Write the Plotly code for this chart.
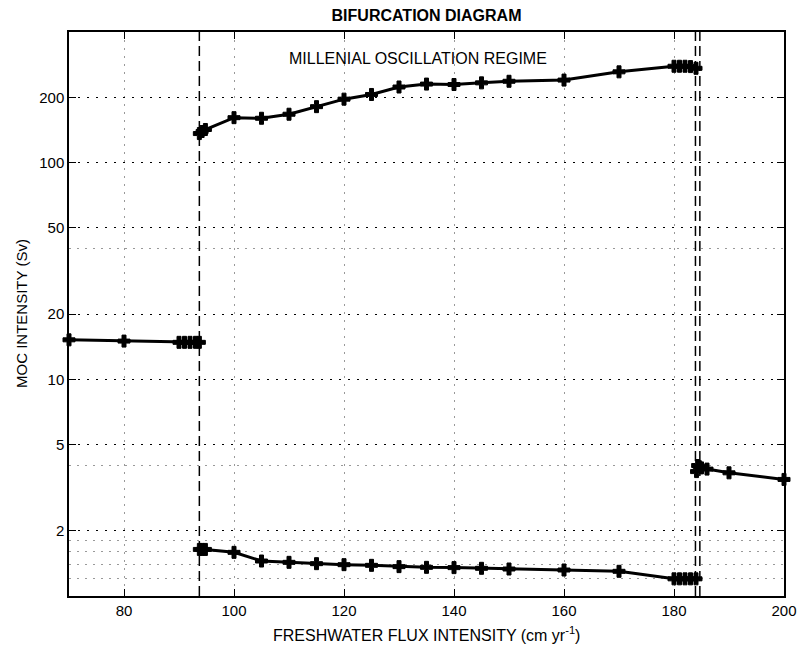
import math
import plotly.graph_objects as go

# ---- data ----
on_x = [70, 80, 90, 91, 92, 93, 93.7]
on_y = [15.2, 15.0, 14.8, 14.8, 14.8, 14.8, 14.8]

osc_x = [93.7, 94.2, 94.8, 100, 105, 110, 115, 120, 125, 130, 135, 140, 145, 150, 160, 170,
         180, 181, 182, 183, 184]
osc_max = [136, 139, 142, 161, 160, 167, 181, 196, 206, 223, 230, 229, 233, 237, 240, 262,
           278, 278, 278, 277, 272]
osc_min = [1.64, 1.64, 1.64, 1.59, 1.45, 1.43, 1.41, 1.395, 1.385, 1.366, 1.356, 1.352, 1.342,
           1.332, 1.318, 1.30, 1.2, 1.2, 1.2, 1.2, 1.2]

off_x = [184.1, 184.3, 184.6, 185, 186, 190, 200]
off_y = [3.75, 4.0, 3.95, 3.9, 3.85, 3.7, 3.45]

bif_x = [93.7, 183.9, 184.7]

x_ticks = [80, 100, 120, 140, 160, 180, 200]
y_ticks = [2, 5, 10, 20, 50, 100, 200]
y_minor = [1.2, 1.4, 1.6, 1.8, 4, 40]
y_range = [1, 400]

FONT = "Liberation Sans, Arial, Helvetica, sans-serif"

fig = go.Figure()

for bx in bif_x:
    fig.add_trace(go.Scatter(x=[bx, bx], y=y_range, mode="lines",
                             line=dict(color="black", width=1.5, dash="10px,5px"),
                             showlegend=False, hoverinfo="skip"))

line_style = dict(color="black", width=3)
marker_style = dict(symbol="cross", size=10, color="black", line=dict(color="black", width=1))
for xs, ys in [(on_x, on_y), (osc_x, osc_max), (osc_x, osc_min), (off_x, off_y)]:
    fig.add_trace(go.Scatter(x=xs, y=ys, mode="lines+markers", line=line_style,
                             marker=marker_style, showlegend=False, cliponaxis=False))

fig.update_layout(
    width=801, height=651,
    margin=dict(l=69, r=17, t=32, b=55, autoexpand=False),
    paper_bgcolor="white", plot_bgcolor="white",
    font=dict(family=FONT, color="black", size=15),
    title=dict(text="<b>BIFURCATION DIAGRAM</b>", x=(426.5 / 801), xanchor="center",
               y=1 - 15 / 651, yanchor="middle", font=dict(size=16, family=FONT)),
    xaxis=dict(range=[70, 200], tickvals=x_ticks, ticktext=[str(v) for v in x_ticks],
               automargin=False, ticklabeloverflow="allow",
               showgrid=True, gridcolor="#999999", griddash="2px,6px", gridwidth=1,
               showline=True, linecolor="black", linewidth=1.5, mirror="ticks",
               ticks="inside", ticklen=7, tickcolor="black", zeroline=False,
               tickfont=dict(size=15)),
    yaxis=dict(type="log", range=[math.log10(y_range[0]), math.log10(y_range[1])],
               tickvals=y_ticks, ticktext=[str(v) for v in y_ticks],
               automargin=False,
               showgrid=True, gridcolor="black", griddash="2px,7px", gridwidth=1,
               minor=dict(tickvals=y_minor, showgrid=True, gridcolor="#999999",
                          griddash="2px,6px", ticks=""),
               showline=True, linecolor="black", linewidth=1.5, mirror="ticks",
               ticks="inside", ticklen=7, tickcolor="black", zeroline=False,
               tickfont=dict(size=15)),
    annotations=[
        dict(text="MILLENIAL OSCILLATION REGIME", xref="paper", yref="paper",
             x=(417.7 - 69) / 715, y=(595.7 - 59) / 563.2, showarrow=False,
             xanchor="center", yanchor="middle", font=dict(size=16)),
        dict(text="FRESHWATER FLUX INTENSITY (cm yr<sup>-1</sup>)", xref="paper", yref="paper",
             x=0.5, y=-(634 - 595.7) / 563.2, showarrow=False,
             xanchor="center", yanchor="middle", font=dict(size=16)),
        dict(text="MOC INTENSITY (Sv)", xref="paper", yref="paper",
             x=(21 - 69) / 715, y=0.5, showarrow=False, textangle=-90,
             xanchor="center", yanchor="middle", font=dict(size=15)),
    ],
)

fig.write_html("out.html", config={"displayModeBar": False},
               post_script="document.body.style.margin='0';document.body.style.overflow='hidden';")
